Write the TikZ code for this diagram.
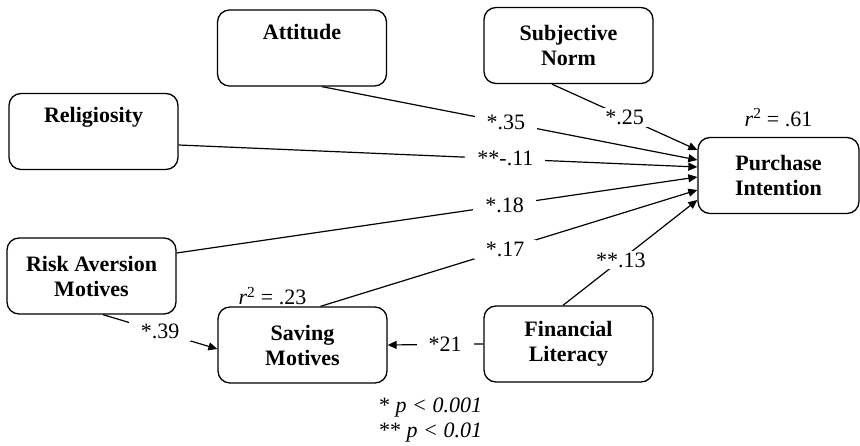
\documentclass[tikz,border=0pt]{standalone}
\usepackage{fontspec}
\setmainfont{Liberation Serif}
\usetikzlibrary{arrows.meta,positioning}
\tikzset{
  pmbox/.style={
    rectangle, rounded corners=12pt, draw=black, fill=white, line width=1.3pt,
    minimum width=169pt, minimum height=76pt, inner sep=2pt,
    align=center, font=\fontsize{22}{25}\selectfont\bfseries
  },
  pmedge/.style={-{Triangle[length=9pt,width=8pt]},line width=1.2pt},
  pmlabel/.style={font=\fontsize{22}{25}\selectfont,fill=white,inner xsep=12pt,inner ysep=2pt},
  pmnote/.style={font=\fontsize{22}{25}\selectfont,inner sep=1pt,align=left}
}
\begin{document}
\begin{tikzpicture}[x=1pt,y=-1pt]
  \useasboundingbox (0,0) rectangle (860,446);
  % constructs
  \node[pmbox] (att) at (302,48) {Attitude\\ \strut};
  \node[pmbox] (sn) at (568.5,45.5) {Subjective\\Norm};
  \node[pmbox] (rel) at (93.5,131.5) {Religiosity\\ \strut};
  \node[pmbox,minimum width=161pt] (pi) at (778.5,175.5) {Purchase\\Intention};
  \node[pmbox] (ram) at (91.5,276) {Risk Aversion\\Motives};
  \node[pmbox] (sm) at (302.5,345) {Saving\\Motives};
  \node[pmbox] (fl) at (568.5,344) {Financial\\Literacy};

  % paths into purchase intention
  \draw[pmedge] ([xshift=-16.5pt]sn.south) -- node[pmlabel,pos=0.5] {*.25} ([yshift=25.5pt]pi.west);
  \draw[pmedge] ([xshift=20pt]att.south) -- node[pmlabel,pos=0.49] {*.35} ([yshift=15.5pt]pi.west);
  \draw[pmedge] ([yshift=-13.5pt]rel.east) -- node[pmlabel,pos=0.63] {**-.11} ([yshift=8.5pt]pi.west);
  \draw[pmedge] ([yshift=23pt]ram.east) -- node[pmlabel,pos=0.63] {*.18} ([yshift=-1.5pt]pi.west);
  \draw[pmedge] ([xshift=18pt]sm.north) -- node[pmlabel,pos=0.49] {*.17} ([yshift=-14.5pt]pi.west);
  \draw[pmedge] ([xshift=-5.5pt]fl.north) -- node[pmlabel,pos=0.43] {**.13} ([yshift=-24.5pt]pi.west);

  % paths into saving motives
  \draw[pmedge] ([xshift=11.5pt]ram.south) -- node[pmlabel,pos=0.5] {*.39} ([yshift=-4pt]sm.west);
  \draw[pmedge] (fl.west) -- node[pmlabel,pos=0.4] {*21} (sm.east);

  % explained variance
  \node[pmnote,above=9pt of pi] (r2pi) {\textit{r}\textsuperscript{2} = .61};
  \node[pmnote,above right=0pt and 20pt of sm.north west] (r2sm) {\textit{r}\textsuperscript{2} = .23};

  % significance levels
  \node[pmnote,anchor=west] (sig) at (378,420) {* \textit{p < 0.001}\\** \textit{p < 0.01}};
\end{tikzpicture}
\end{document}
